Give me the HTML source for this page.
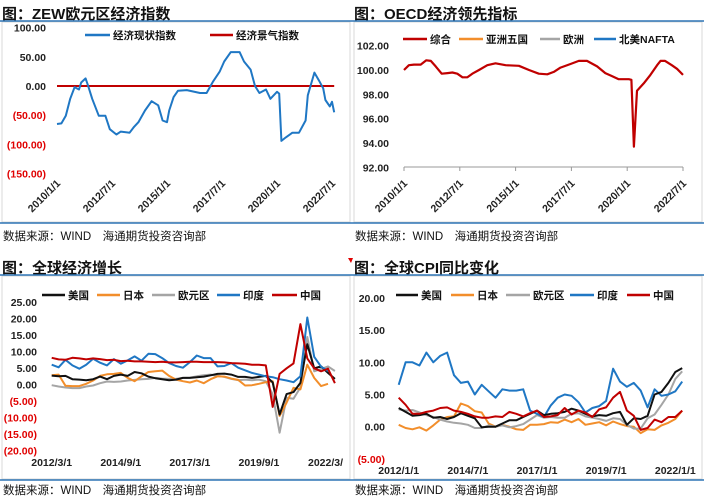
<!DOCTYPE html>
<html><head><meta charset="utf-8"><style>
html,body{margin:0;padding:0;background:#fff;}
svg{display:block;font-family:"Liberation Sans","Noto Sans CJK SC",sans-serif;}
.tk{font-size:10.5px;font-weight:bold;fill:#222;}
.neg{fill:#e00000;}
.ttl{font-size:15px;font-weight:bold;fill:#111;}
.src{font-size:11.5px;fill:#111;}
.lg{font-size:10.5px;font-weight:bold;fill:#111;}
</style></head><body>
<svg id="root" width="704" height="498" viewBox="0 0 704 498" xmlns="http://www.w3.org/2000/svg"></svg>
<script>
// ---------- Data ----------
const zewYears=[2010.0,2010.2,2010.4,2010.6,2010.8,2011.0,2011.1,2011.3,2011.4,2011.6,2011.9,2012.2,2012.4,2012.7,2012.9,2013.3,2013.5,2013.7,2014.0,2014.3,2014.6,2014.8,2015.0,2015.1,2015.3,2015.5,2015.9,2016.5,2016.8,2017.1,2017.4,2017.6,2017.9,2018.3,2018.5,2018.8,2019.0,2019.2,2019.5,2019.7,2020.0,2020.1,2020.2,2020.4,2020.7,2021.0,2021.3,2021.4,2021.7,2021.9,2022.1,2022.2,2022.4,2022.5,2022.6];
const zewCurrent=[-65,-64,-51,-22,-2,-6,6,13,2,-22,-51,-51,-74,-83,-78,-80,-70,-62,-42,-26,-33,-59,-62,-42,-19,-8,-7,-12,-12,8,25,42,58,58,42,28,0,-12,-6,-22,-10,-13,-94,-88,-80,-80,-59,-16,23,10,-4,-24,-35,-27,-45];
const zewSentiment=[0,0];
const zewSentYears=[2010.0,2022.6];
const zewTicks=[100,50,0,-50,-100,-150];
const zewTickLabels=["100.00","50.00","0.00","(50.00)","(100.00)","(150.00)"];
const p12XLabels=["2010/1/1","2012/7/1","2015/1/1","2017/7/1","2020/1/1","2022/7/1"];
const p12XYears=[2010,2012.5,2015,2017.5,2020,2022.5];

const oecdYears=[2010.0,2010.22,2010.45,2010.75,2011.0,2011.2,2011.42,2011.69,2011.95,2012.17,2012.39,2012.62,2012.84,2013.06,2013.36,2013.73,2014.1,2014.55,2015.15,2015.6,2016.04,2016.42,2016.71,2017.01,2017.46,2017.83,2018.2,2018.65,2019.02,2019.32,2019.62,2020.07,2020.19,2020.3,2020.44,2020.74,2021.04,2021.34,2021.49,2021.7,2022.0,2022.23,2022.5];
const oecdComposite=[100.0,100.4,100.45,100.45,100.8,100.75,100.3,99.7,99.75,99.8,99.7,99.4,99.4,99.7,100.0,100.4,100.55,100.4,100.35,100.0,99.7,99.65,99.85,100.2,100.5,100.75,100.75,100.3,99.75,99.5,99.25,99.25,99.2,93.7,98.3,98.9,99.6,100.4,100.75,100.75,100.4,100.1,99.6];
const oecdTicks=[102,100,98,96,94,92];
const oecdTickLabels=["102.00","100.00","98.00","96.00","94.00","92.00"];

const gdpStart=2012.17;
const gdpUS=[2.7,2.5,2.6,1.6,1.5,1.3,1.6,2.4,1.6,2.6,3.0,2.6,3.8,3.4,2.4,1.9,1.6,1.3,1.5,2.0,2.0,2.2,2.4,2.8,3.2,3.3,3.0,2.3,2.3,2.0,2.3,2.6,0.6,-9.1,-2.9,-2.3,0.5,12.2,4.9,5.5,3.5,1.7];
const gdpJapan=[2.8,3.0,-0.4,-0.5,-0.5,0.2,1.2,2.6,3.1,3.2,3.5,2.0,1.0,2.5,3.8,4.0,4.2,2.6,1.5,1.0,0.6,1.2,0.4,1.6,2.5,2.4,1.8,1.4,-0.3,-0.2,0.2,0.7,1.0,-9.5,-5.5,-1.0,-1.5,6.0,2.0,-0.5,0.2,null];
const gdpEuro=[-0.2,-0.6,-0.9,-1.1,-1.1,-0.6,-0.3,0.4,0.9,0.8,0.9,1.2,1.4,1.6,1.7,2.0,1.8,1.7,1.7,2.0,2.1,2.5,2.8,3.0,2.6,2.3,1.7,1.3,1.5,1.3,1.5,1.0,-3.0,-14.6,-4.0,-4.3,-0.9,14.4,4.0,4.7,5.5,4.1];
const gdpIndia=[6.0,5.2,7.5,5.8,4.8,6.0,7.8,6.6,5.8,7.7,6.3,7.3,8.5,7.2,9.3,9.2,8.0,6.5,5.6,5.1,6.8,8.8,8.0,8.0,5.5,5.6,6.5,5.1,4.3,3.5,3.0,2.5,2.2,1.6,1.2,0.7,2.5,20.3,8.4,5.4,4.1,null];
const gdpChina=[8.1,7.6,7.5,8.1,7.9,7.6,7.9,7.7,7.4,7.5,7.1,7.2,7.0,7.0,6.9,6.8,6.9,6.7,6.7,6.8,6.9,6.9,6.8,6.8,6.8,6.7,6.5,6.4,6.3,6.0,6.0,5.8,-6.8,3.2,4.9,6.4,18.3,7.9,4.9,4.0,4.8,0.4];
const gdpTicks=[25,20,15,10,5,0,-5,-10,-15,-20];
const gdpTickLabels=["25.00","20.00","15.00","10.00","5.00","0.00","(5.00)","(10.00)","(15.00)","(20.00)"];
const gdpXLabels=["2012/3/1","2014/9/1","2017/3/1","2019/9/1","2022/3/"];
const gdpXYears=[2012.17,2014.67,2017.17,2019.67,2022.17];

const cpiStart=2012.0;
const cpiUS=[2.9,2.3,1.7,1.8,2.0,1.4,1.5,1.2,1.5,2.1,1.7,1.3,-0.1,0.0,0.0,0.5,1.0,1.0,1.5,2.0,2.5,1.8,2.0,2.1,2.3,2.8,2.5,2.0,1.6,1.8,1.7,2.1,2.3,0.3,1.3,1.2,1.7,5.0,5.4,6.8,8.5,9.1];
const cpiJapan=[0.3,-0.2,-0.4,-0.1,-0.6,0.2,1.1,1.5,1.6,3.6,3.2,2.4,2.2,0.5,0.0,0.3,0.0,-0.4,-0.5,0.3,0.3,0.4,0.7,0.6,1.1,0.7,1.2,0.3,0.5,0.7,0.2,0.8,0.4,0.1,0.0,-1.0,-0.4,-0.5,0.2,0.6,1.2,2.5];
const cpiEuro=[2.7,2.5,2.6,2.2,1.8,1.5,1.1,0.8,0.6,0.5,0.3,-0.2,-0.2,0.2,0.0,0.2,-0.1,0.1,0.4,1.1,1.8,1.4,1.5,1.4,1.4,2.0,2.1,1.6,1.4,1.2,0.9,1.3,1.2,0.3,-0.3,-0.3,1.3,1.9,3.4,5.0,7.4,8.6];
const cpiIndia=[6.5,10.0,10.0,9.5,11.5,10.0,11.0,11.5,8.0,6.8,7.0,5.0,6.5,5.5,4.5,5.8,5.6,5.6,5.8,2.5,2.0,1.5,3.3,4.5,5.0,4.8,3.8,2.2,2.9,3.2,4.0,9.0,7.0,6.2,6.8,5.6,3.0,5.8,4.8,5.0,5.5,7.0];
const cpiChina=[4.5,3.4,2.0,2.0,2.3,2.5,2.9,3.0,2.5,2.3,2.0,1.6,1.4,1.4,1.6,1.5,2.3,2.0,1.6,2.1,2.5,1.5,1.6,1.8,2.9,1.9,2.5,2.2,1.5,2.7,3.0,4.5,5.4,2.5,1.7,-0.5,-0.2,1.1,0.7,1.5,1.5,2.5];
const cpiTicks=[20,15,10,5,0,-5];
const cpiTickLabels=["20.00","15.00","10.00","5.00","0.00","(5.00)"];
const cpiXLabels=["2012/1/1","2014/7/1","2017/1/1","2019/7/1","2022/1/1"];
const cpiXYears=[2012,2014.5,2017,2019.5,2022];

// ---------- Helpers ----------
const NS="http://www.w3.org/2000/svg";
const root=document.getElementById('root');
function mk(tag,attrs,parent){const e=document.createElementNS(NS,tag);for(const k in attrs)e.setAttribute(k,attrs[k]);(parent||root).appendChild(e);return e;}
function txt(x,y,s,cls,anchor,parent){const t=mk('text',{x:x,y:y,'class':cls,'text-anchor':anchor||'start'},parent);t.textContent=s;return t;}
function poly(xs,ys,sx,sy,color,w,parent){let d='';let pen=false;for(let i=0;i<xs.length;i++){if(ys[i]===null||ys[i]===undefined){pen=false;continue;}d+=(pen?'L':'M')+sx(xs[i]).toFixed(1)+','+sy(ys[i]).toFixed(1);pen=true;}return mk('path',{d:d,fill:'none',stroke:color,'stroke-width':w,'stroke-linejoin':'round'},parent);}
function seq(start,n){const a=[];for(let i=0;i<n;i++)a.push(start+i*0.25);return a;}

function frame(x0,x1,titleY,lineY,boxBottom,footY,title,name){
  const g=mk('g',{});
  
  
  const t=txt(x0+2,titleY,title,'ttl','start',g);
  
  
  mk('rect',{x:x0+2,y:lineY+1,width:x1-x0-4,height:boxBottom-lineY-1,fill:'none',stroke:'#d8d8d8','stroke-width':1},g);
  mk('line',{x1:x0,y1:lineY,x2:x1,y2:lineY,stroke:'#2e75b6','stroke-width':1.5},g);
  mk('line',{x1:x0,y1:boxBottom+1,x2:x1,y2:boxBottom+1,stroke:'#2e75b6','stroke-width':1.5},g);
  const s=txt(x0+3,footY,'数据来源：WIND　海通期货投资咨询部','src','start',g);
  
  
  return g;
}
function legend(g,items,y){
  items.forEach(it=>{
    const lg=mk('g',{},g);
    
    
    mk('line',{x1:it[0],y1:y,x2:it[1],y2:y,stroke:it[3],'stroke-width':2.5},lg);
    txt(it[1]+3,y+4,it[2],'lg','start',lg);
  });
}
function yTicks(g,ticks,labels,sy,xr){
  ticks.forEach((v,i)=>{const t=txt(xr,sy(v)+4,labels[i],v<0?'tk neg':'tk','end',g);
    
    });
}
function rotLabels(g,years,labels,sx,y){
  years.forEach((yr,i)=>{const x=sx(yr);const t=txt(x+4,y,labels[i],'tk','end',g);t.setAttribute('transform','rotate(-45 '+(x+4)+' '+y+')');
    
    });
}

// ---------- Panel 1 ZEW ----------
{
const g=frame(0,352,19,21,222,240,'图：ZEW欧元区经济指数','zew-panel');
const sx=yr=>57+(yr-2010)*22, sy=v=>86-v*0.584;
yTicks(g,zewTicks,zewTickLabels,sy,46);
rotLabels(g,p12XYears,p12XLabels,sx,184);
const r=poly(zewSentYears,zewSentiment,sx,sy,'#c00000',2,g);


const b=poly(zewYears,zewCurrent,sx,sy,'#1f77c4',2,g);


legend(g,[[85,110,'经济现状指数','#1f77c4'],[210,233,'经济景气指数','#c00000']],35);
}
// ---------- Panel 2 OECD ----------
{
const g=frame(352,704,19,21,222,240,'图：OECD经济领先指标','oecd-panel');
const sx=yr=>404+(yr-2010)*22.32, sy=v=>45.7+(102-v)*12.17;
yTicks(g,oecdTicks,oecdTickLabels,sy,389);
mk('line',{x1:404,y1:167,x2:683,y2:167,stroke:'#999','stroke-width':1},g);
p12XYears.forEach(yr=>mk('line',{x1:sx(yr),y1:167,x2:sx(yr),y2:171,stroke:'#999','stroke-width':1},g));
rotLabels(g,p12XYears,p12XLabels,sx,184);
const r=poly(oecdYears,oecdComposite,sx,sy,'#c00000',2.2,g);


legend(g,[[403,427,'综合','#c00000'],[459,483,'亚洲五国','#f28e2b'],[540,560,'欧洲','#a5a5a5'],[594,616,'北美NAFTA','#1f77c4']],39);
}
// ---------- Panel 3 GDP ----------
{
const g=frame(0,352,273,275,479,494,'图：全球经济增长','gdp-panel');
const sx=yr=>51.7+(yr-2012.17)*27.63, sy=v=>384.5-v*3.3;
yTicks(g,gdpTicks,gdpTickLabels,sy,37);
gdpXYears.forEach((yr,i)=>{const t=txt(sx(yr),466,gdpXLabels[i],'tk',i===4?'start':'middle',g);if(i===4)t.setAttribute('x',sx(yr)-20);
  
  });
const xs=seq(gdpStart,42);
[[gdpEuro,'#a5a5a5','euro-gdp-line'],[gdpJapan,'#f28e2b','japan-gdp-line'],[gdpUS,'#111','us-gdp-line'],[gdpIndia,'#1f77c4','india-gdp-line'],[gdpChina,'#c00000','china-gdp-line']].forEach(s=>{
  const p=poly(xs,s[0],sx,sy,s[1],2,g);
  
  
});
legend(g,[[42,65,'美国','#111'],[97,120,'日本','#f28e2b'],[152,175,'欧元区','#a5a5a5'],[217,240,'印度','#1f77c4'],[272,297,'中国','#c00000']],295);
}
// ---------- Panel 4 CPI ----------
{
const g=frame(352,704,273,275,479,494,'图：全球CPI同比变化','cpi-panel');
const sx=yr=>398.7+(yr-2012)*27.66, sy=v=>426.7-v*6.44;
yTicks(g,cpiTicks,cpiTickLabels,sy,385);
cpiXYears.forEach((yr,i)=>{const t=txt(sx(yr),474,cpiXLabels[i],'tk','middle',g);
  
  });
const xs=seq(cpiStart,42);
[[cpiJapan,'#f28e2b','japan-cpi-line'],[cpiEuro,'#a5a5a5','euro-cpi-line'],[cpiIndia,'#1f77c4','india-cpi-line'],[cpiUS,'#111','us-cpi-line'],[cpiChina,'#c00000','china-cpi-line']].forEach(s=>{
  const p=poly(xs,s[0],sx,sy,s[1],2,g);
  
  
});
legend(g,[[396,418,'美国','#111'],[451,474,'日本','#f28e2b'],[506,530,'欧元区','#a5a5a5'],[570,594,'印度','#1f77c4'],[627,650,'中国','#c00000']],295);
}
// small red corner marks
mk('path',{d:'M348,258 L353,258 L351,263 Z',fill:'#e00000'});
</script>
</body></html>
